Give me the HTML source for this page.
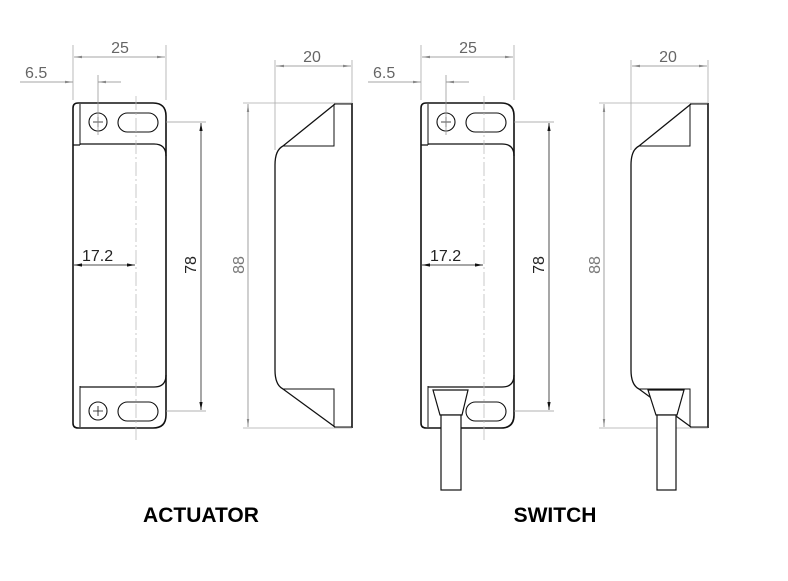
<!DOCTYPE html>
<html><head><style>body{margin:0;background:#fff}svg{display:block}</style></head><body>
<svg width="788" height="581" viewBox="0 0 788 581" xmlns="http://www.w3.org/2000/svg" font-family="Liberation Sans, sans-serif">
<defs>
<marker id="a" viewBox="0 0 10 6" refX="10" refY="3" markerWidth="10" markerHeight="6" orient="auto-start-reverse"><path d="M0,1.5 L10,3 L0,4.5Z" fill="#888"/></marker>
<marker id="b" viewBox="0 0 10 6" refX="10" refY="3" markerWidth="10" markerHeight="6" orient="auto-start-reverse"><path d="M0,1 L10,3 L0,5Z" fill="#111"/></marker>
<g id="front">
<path d="M78,103 H153 Q166,103 166,116 V415 Q166,428 153,428 H78 Q73,428 73,423 V108 Q73,103 78,103Z" fill="none" stroke="#111" stroke-width="1.6"/>
<path d="M80,104 V145 M80,386 V427" stroke="#111" stroke-width="1"/>
<path d="M73,145 H80 M80,144 H154 Q166,144 166,156" fill="none" stroke="#111" stroke-width="1.3"/>
<path d="M80,387 H154 Q166,387 166,375" fill="none" stroke="#111" stroke-width="1.3"/>
<circle cx="98" cy="122" r="9" fill="none" stroke="#111" stroke-width="1.1"/>
<path d="M93,122 H103 M98,117 V127" stroke="#111" stroke-width="0.8"/>
<rect x="118" y="113" width="40" height="19" rx="9.5" fill="none" stroke="#111" stroke-width="1.1"/>
<rect x="118" y="402" width="40" height="19" rx="9.5" fill="none" stroke="#111" stroke-width="1.1"/>
<path d="M136,96 V440" stroke="#bbb" stroke-width="0.8" stroke-dasharray="14,3,2,3"/>
<path d="M98,75 V135" stroke="#999" stroke-width="0.8"/>
<path d="M73,45 V100 M166,45 V100" stroke="#aaa" stroke-width="0.8"/>
<line x1="74" y1="57" x2="165" y2="57" stroke="#888" stroke-width="0.8" marker-start="url(#a)" marker-end="url(#a)"/>
<text x="120" y="53" font-size="16" fill="#666" text-anchor="middle">25</text>
<line x1="20" y1="82" x2="73" y2="82" stroke="#888" stroke-width="0.8" marker-end="url(#a)"/>
<line x1="121" y1="82" x2="98" y2="82" stroke="#888" stroke-width="0.8" marker-end="url(#a)"/>
<text x="25" y="78" font-size="16" fill="#666">6.5</text>
<line x1="74" y1="265" x2="135" y2="265" stroke="#111" stroke-width="0.8" marker-start="url(#b)" marker-end="url(#b)"/>
<text x="82" y="261" font-size="16" fill="#222">17.2</text>
<path d="M166,122 H206 M166,411 H206" stroke="#999" stroke-width="0.8"/>
<line x1="201" y1="123" x2="201" y2="410" stroke="#222" stroke-width="0.8" marker-start="url(#b)" marker-end="url(#b)"/>
<text x="196" y="265" font-size="16" fill="#222" text-anchor="middle" transform="rotate(-90 196 265)">78</text>
</g>
<g id="side">
<path d="M352,103 V428" stroke="#111" stroke-width="1.6"/>
<path d="M335,104 L283,146 Q275,150 275,165 V370 Q275,385 283,389 L335,427" fill="none" stroke="#111" stroke-width="1.3"/>
<path d="M283,146 H334 V104 M283,389 H334 V427" fill="none" stroke="#111" stroke-width="1"/>
<path d="M334,104 H352 M334,427 H352" stroke="#111" stroke-width="1"/>
<path d="M275,60 V150 M352,60 V103" stroke="#aaa" stroke-width="0.8"/>
<line x1="276" y1="66" x2="351" y2="66" stroke="#888" stroke-width="0.8" marker-start="url(#a)" marker-end="url(#a)"/>
<text x="312" y="62" font-size="16" fill="#666" text-anchor="middle">20</text>
<path d="M243,103 H352 M243,428 H352" stroke="#aaa" stroke-width="0.8"/>
<line x1="248" y1="104" x2="248" y2="427" stroke="#888" stroke-width="0.8" marker-start="url(#a)" marker-end="url(#a)"/>
<text x="244" y="265" font-size="16" fill="#777" text-anchor="middle" transform="rotate(-90 244 265)">88</text>
</g>
</defs>
<use href="#front"/>
<use href="#side"/>
<use href="#front" transform="translate(348,0)"/>
<use href="#side" transform="translate(356,0)"/>
<!-- actuator bottom screw -->
<circle cx="98" cy="411" r="9" fill="none" stroke="#111" stroke-width="1.1"/>
<path d="M93,411 H103 M98,406 V416" stroke="#111" stroke-width="0.8"/>
<!-- switch cables -->
<path d="M433,390 L468,390 L462,415 L440,415 Z" fill="#fff" stroke="#111" stroke-width="1.2"/>
<rect x="441" y="415" width="20" height="75" fill="#fff" stroke="#111" stroke-width="1.2"/>
<path d="M648,390 L684,390 L677,415 L656,415 Z" fill="#fff" stroke="#111" stroke-width="1.2"/>
<rect x="657" y="415" width="19" height="75" fill="#fff" stroke="#111" stroke-width="1.2"/>
<text x="201" y="522" font-size="21" font-weight="bold" text-anchor="middle" fill="#000">ACTUATOR</text>
<text x="555" y="522" font-size="21" font-weight="bold" text-anchor="middle" fill="#000">SWITCH</text>
</svg>
</body></html>
